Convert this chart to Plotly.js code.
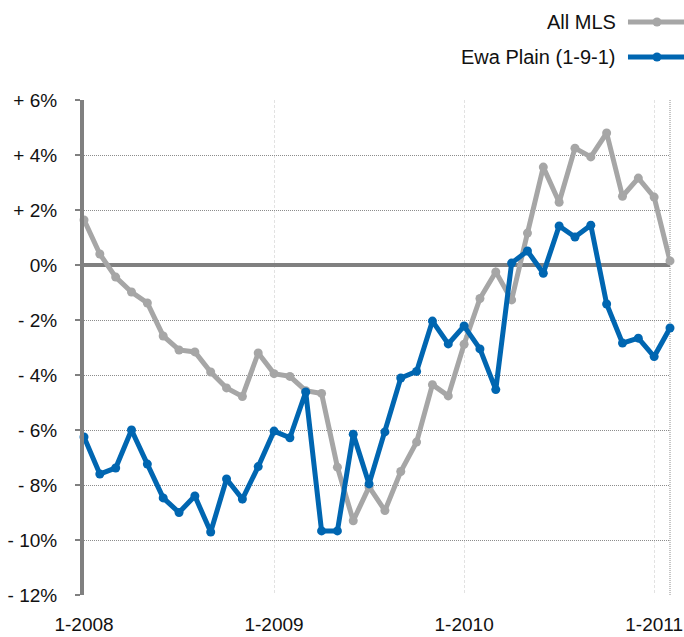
<!DOCTYPE html>
<html>
<head>
<meta charset="utf-8">
<script src="https://cdn.plot.ly/plotly-3.0.1.min.js"></script>
<style>html,body{margin:0;padding:0;background:#fff;}#chart{width:684px;height:637px;}</style>
</head>
<body>
<div id="chart"></div>
<script>
var months = ["1-2008","2-2008","3-2008","4-2008","5-2008","6-2008","7-2008","8-2008","9-2008","10-2008","11-2008","12-2008",
              "1-2009","2-2009","3-2009","4-2009","5-2009","6-2009","7-2009","8-2009","9-2009","10-2009","11-2009","12-2009",
              "1-2010","2-2010","3-2010","4-2010","5-2010","6-2010","7-2010","8-2010","9-2010","10-2010","11-2010","12-2010",
              "1-2011","2-2011"];
var allMLS = [1.64, 0.4, -0.44, -0.98, -1.38, -2.58, -3.09, -3.16, -3.89, -4.47, -4.78, -3.2,
              -3.95, -4.05, -4.57, -4.67, -7.35, -9.3, -8.07, -8.93, -7.51, -6.44, -4.35, -4.76,
              -2.88, -1.22, -0.25, -1.27, 1.16, 3.56, 2.28, 4.25, 3.93, 4.8, 2.5, 3.16,
              2.47, 0.15];
var ewaPlain = [-6.25, -7.6, -7.38, -6.0, -7.24, -8.47, -9.0, -8.4, -9.71, -7.78, -8.51, -7.33,
                -6.04, -6.28, -4.62, -9.67, -9.67, -6.15, -7.96, -6.07, -4.11, -3.87, -2.04, -2.87,
                -2.22, -3.05, -4.53, 0.07, 0.51, -0.3, 1.42, 1.02, 1.45, -1.42, -2.84, -2.66,
                -3.33, -2.29];
var seriesNames = ["All MLS", "Ewa Plain (1-9-1)"];
var xTickVals = ["1-2008","1-2009","1-2010","1-2011"];
var yTickVals = [6, 4, 2, 0, -2, -4, -6, -8, -10, -12];
var yTickText = ["+ 6%","+ 4%","+ 2%","0%","- 2%","- 4%","- 6%","- 8%","- 10%","- 12%"];

var grey = "#a6a6a6", blue = "#0066b1";
var font = "Liberation Sans, Arial, Helvetica, sans-serif";

var traces = [
  {x: months, y: allMLS, name: seriesNames[0], type: "scatter", mode: "lines+markers",
   line: {color: grey, width: 5}, marker: {color: grey, size: 9}, cliponaxis: false},
  {x: months, y: ewaPlain, name: seriesNames[1], type: "scatter", mode: "lines+markers",
   line: {color: blue, width: 5}, marker: {color: blue, size: 9}, cliponaxis: false}
];

// legend drawn manually (text to the left of the symbol)
var legY = [1.1576, 1.0869];
var legColors = [grey, blue];
var annotations = [], shapes = [];
for (var i = 0; i < 2; i++) {
  annotations.push({xref: "paper", yref: "paper", x: 0.9113, y: legY[i], xanchor: "right", yanchor: "middle",
    text: seriesNames[i], showarrow: false, font: {family: font, size: 20, color: "#111"}});
  shapes.push({type: "line", xref: "paper", yref: "paper", x0: 0.9283, x1: 1.04, y0: legY[i], y1: legY[i],
    line: {color: legColors[i], width: 5}});
  shapes.push({type: "circle", xref: "paper", yref: "paper", xsizemode: "pixel", ysizemode: "pixel",
    xanchor: 0.9778, yanchor: legY[i], x0: -4.5, x1: 4.5, y0: -4.5, y1: 4.5,
    fillcolor: legColors[i], line: {width: 0}});
}
// dotted right border of the plot area
shapes.push({type: "line", xref: "paper", yref: "paper", x0: 1, x1: 1, y0: 0, y1: 1,
  line: {color: "#8c8c8c", width: 1, dash: "1px,1px"}, layer: "below"});

var layout = {
  width: 684, height: 637,
  margin: {l: 84, r: 14, t: 100, b: 42},
  paper_bgcolor: "#fff", plot_bgcolor: "#fff",
  showlegend: false,
  font: {family: font, size: 19, color: "#111"},
  xaxis: {type: "category", categoryorder: "array", categoryarray: months,
    range: [0, 37], tickvals: xTickVals, ticktext: xTickVals,
    showgrid: true, gridcolor: "#e2e2e2", gridwidth: 1, griddash: "3px,2px",
    showline: false, zeroline: false, ticks: "", ticklabelstandoff: 16,
    tickfont: {family: font, size: 19, color: "#111"}},
  yaxis: {range: [-12, 6], tickvals: yTickVals, ticktext: yTickText,
    showgrid: true, gridcolor: "#8c8c8c", gridwidth: 1, griddash: "1px,1px",
    showline: true, linecolor: "#808080", linewidth: 4,
    zeroline: true, zerolinecolor: "#808080", zerolinewidth: 4,
    ticks: "outside", ticklen: 5, tickcolor: "#808080", tickwidth: 2, ticklabelstandoff: 14,
    tickfont: {family: font, size: 19, color: "#111"}},
  annotations: annotations,
  shapes: shapes
};

Plotly.newPlot("chart", traces, layout, {displayModeBar: false, staticPlot: true});
</script>
</body>
</html>
